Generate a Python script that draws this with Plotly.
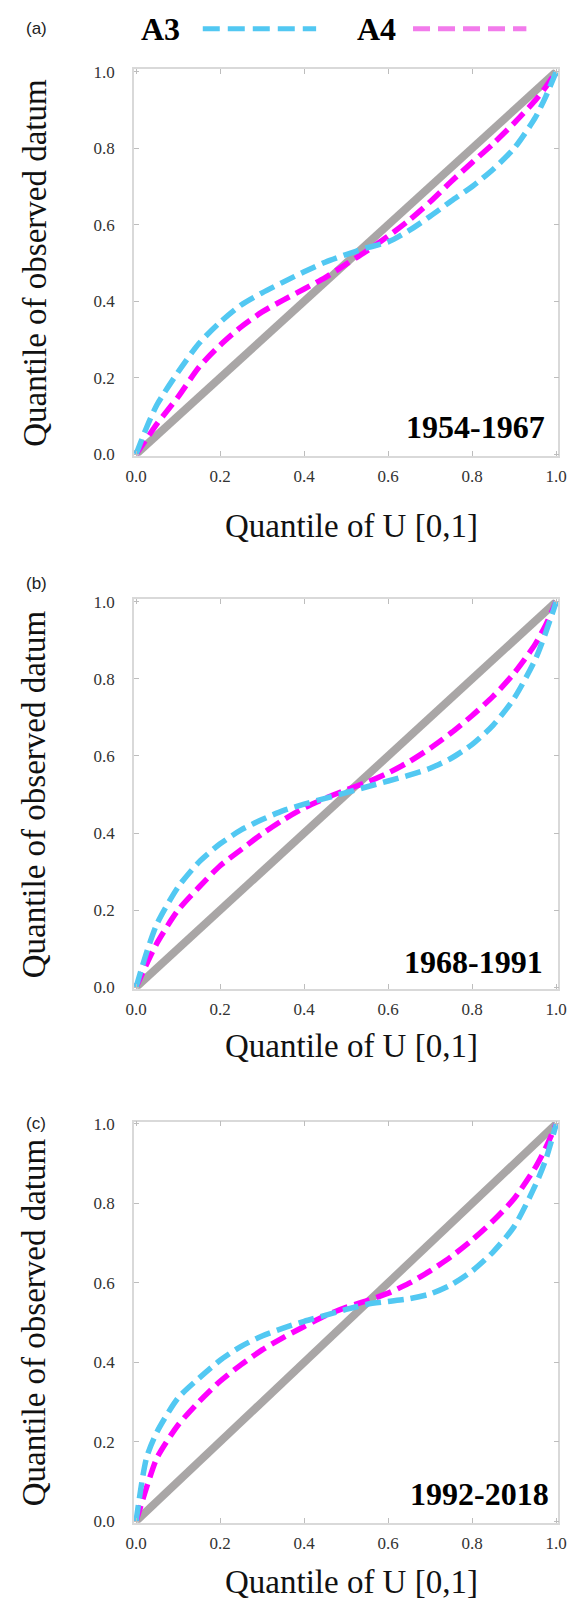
import plotly.graph_objects as go

# Quantile grid of U[0,1]
u = [0, 0.025, 0.05, 0.1, 0.15, 0.2, 0.25, 0.3, 0.35, 0.4, 0.45, 0.5,
     0.55, 0.6, 0.65, 0.7, 0.75, 0.8, 0.85, 0.9, 0.95, 0.975, 1.0]

# Quantiles of observed datum, per period and model
a3_1954 = [0, 0.07, 0.13, 0.215, 0.29, 0.345, 0.39, 0.422, 0.45, 0.477, 0.502, 0.522,
           0.54, 0.555, 0.585, 0.622, 0.662, 0.70, 0.745, 0.80, 0.88, 0.935, 1.0]
a4_1954 = [0, 0.04, 0.08, 0.15, 0.228, 0.285, 0.333, 0.372, 0.403, 0.432, 0.462, 0.497,
           0.532, 0.57, 0.612, 0.66, 0.713, 0.763, 0.812, 0.866, 0.925, 0.96, 1.0]

a3_1968 = [0, 0.09, 0.165, 0.26, 0.325, 0.372, 0.408, 0.435, 0.458, 0.475, 0.49, 0.505,
           0.52, 0.535, 0.55, 0.568, 0.594, 0.63, 0.68, 0.75, 0.85, 0.92, 1.0]
a4_1968 = [0, 0.06, 0.115, 0.2, 0.26, 0.315, 0.357, 0.398, 0.434, 0.465, 0.49, 0.512,
           0.532, 0.556, 0.585, 0.62, 0.66, 0.705, 0.755, 0.815, 0.89, 0.94, 1.0]

a3_1992 = [0, 0.16, 0.225, 0.31, 0.36, 0.405, 0.44, 0.466, 0.486, 0.503, 0.518, 0.533,
           0.546, 0.553, 0.56, 0.572, 0.595, 0.63, 0.678, 0.742, 0.845, 0.91, 1.0]
a4_1992 = [0, 0.085, 0.16, 0.242, 0.301, 0.352, 0.394, 0.431, 0.462, 0.49, 0.517, 0.538,
           0.555, 0.574, 0.599, 0.63, 0.666, 0.708, 0.756, 0.812, 0.89, 0.94, 1.0]

reference_line = [0, 1]

periods = ["1954-1967", "1968-1991", "1992-2018"]
panel_tags = ["(a)", "(b)", "(c)"]
series = [(a3_1954, a4_1954), (a3_1968, a4_1968), (a3_1992, a4_1992)]

tick_vals = [0, 0.2, 0.4, 0.6, 0.8, 1.0]
tick_text = ["0.0", "0.2", "0.4", "0.6", "0.8", "1.0"]

W, H = 578, 1608
CYAN = "#52C8F2"
MAGENTA = "#FF00FF"
A4_KEY = "#F27BEB"
GRAY = "#A9A6A6"
SERIF = "Liberation Serif"

# panel boxes in pixels: (top, bottom)
boxes = [(63, 453), (598, 991), (1125, 1530)]
x_left, x_right = 129, 567
xtitle_y = [524, 1049, 1590]
period_pos = [(481, 424), (479, 964), (486, 1501)]
tag_y = [22, 582, 1127]


def px_x(p):
    return p / W


def px_y(p):
    return 1 - p / H


fig = go.Figure()

for i, (a3, a4) in enumerate(series):
    xa = "x" if i == 0 else f"x{i + 1}"
    ya = "y" if i == 0 else f"y{i + 1}"
    fig.add_trace(go.Scatter(x=reference_line, y=reference_line, mode="lines",
                             line=dict(color=GRAY, width=8), xaxis=xa, yaxis=ya,
                             showlegend=False, hoverinfo="skip"))
    fig.add_trace(go.Scatter(x=u, y=a4, mode="lines", name="A4",
                             line=dict(color=MAGENTA, width=5.5, dash="16px,7px",
                                       shape="spline", smoothing=0.7),
                             xaxis=xa, yaxis=ya, showlegend=False))
    fig.add_trace(go.Scatter(x=u, y=a3, mode="lines", name="A3",
                             line=dict(color=CYAN, width=5.5, dash="16px,7px",
                                       shape="spline", smoothing=0.7),
                             xaxis=xa, yaxis=ya, showlegend=False))

axis_common = dict(
    showgrid=False, zeroline=False, showline=True, linecolor="#D9D9D9", linewidth=1.5,
    mirror="ticks", ticks="inside", ticklen=5, tickcolor="#BDBDBD", tickwidth=1.2,
    tickmode="array", tickvals=tick_vals, ticktext=tick_text,
    tickfont=dict(family=SERIF, size=17, color="#333333"),
)

layout = dict(
    width=W, height=H, margin=dict(l=0, r=0, t=0, b=0),
    paper_bgcolor="white", plot_bgcolor="white", showlegend=False,
    font=dict(family=SERIF),
)

annotations = []
shapes = []
for i, (top, bottom) in enumerate(boxes):
    sfx = "" if i == 0 else str(i + 1)
    layout["xaxis" + sfx] = dict(
        axis_common, domain=[px_x(x_left), px_x(x_right)], range=[-0.005, 1.005],
        anchor="y" + sfx, ticklabelstandoff=4,
    )
    layout["yaxis" + sfx] = dict(
        axis_common, domain=[px_y(bottom), px_y(top)], range=[-0.004, 1.006],
        anchor="x" + sfx, ticklabelstandoff=14,
    )
    mid = (top + bottom) / 2
    annotations.append(dict(text="Quantile of observed datum", x=px_x(26), y=px_y(mid),
                            xref="paper", yref="paper", showarrow=False, textangle=-90,
                            font=dict(family=SERIF, size=33, color="#111111"),
                            xanchor="center", yanchor="middle"))
    annotations.append(dict(text="Quantile of U [0,1]", x=px_x(353), y=px_y(xtitle_y[i]),
                            xref="paper", yref="paper", showarrow=False,
                            font=dict(family=SERIF, size=33, color="#111111"),
                            xanchor="center", yanchor="middle"))
    px_, py_ = period_pos[i]
    annotations.append(dict(text="<b>" + periods[i] + "</b>", x=px_x(px_), y=px_y(py_),
                            xref="paper", yref="paper", showarrow=False,
                            font=dict(family=SERIF, size=32, color="#000000"),
                            xanchor="center", yanchor="middle"))
    annotations.append(dict(text=panel_tags[i], x=px_x(28), y=px_y(tag_y[i]),
                            xref="paper", yref="paper", showarrow=False,
                            font=dict(family="Liberation Sans", size=17,
                                      color="#222222"),
                            xanchor="center", yanchor="middle"))

# legend row: label followed by a dashed key
legend_items = [("A3", 156, 200, 317, CYAN), ("A4", 379, 417, 534, A4_KEY)]
for label, tx, x0, x1, col in legend_items:
    annotations.append(dict(text="<b>" + label + "</b>", x=px_x(tx), y=px_y(22),
                            xref="paper", yref="paper", showarrow=False,
                            font=dict(family=SERIF, size=32, color="#000000"),
                            xanchor="center", yanchor="middle"))
    shapes.append(dict(type="line", xref="paper", yref="paper",
                       x0=px_x(x0), x1=px_x(x1), y0=px_y(22), y1=px_y(22),
                       line=dict(color=col, width=5, dash="17px,8px")))

layout["annotations"] = annotations
layout["shapes"] = shapes
fig.update_layout(**layout)

fig.write_html("out.html")
